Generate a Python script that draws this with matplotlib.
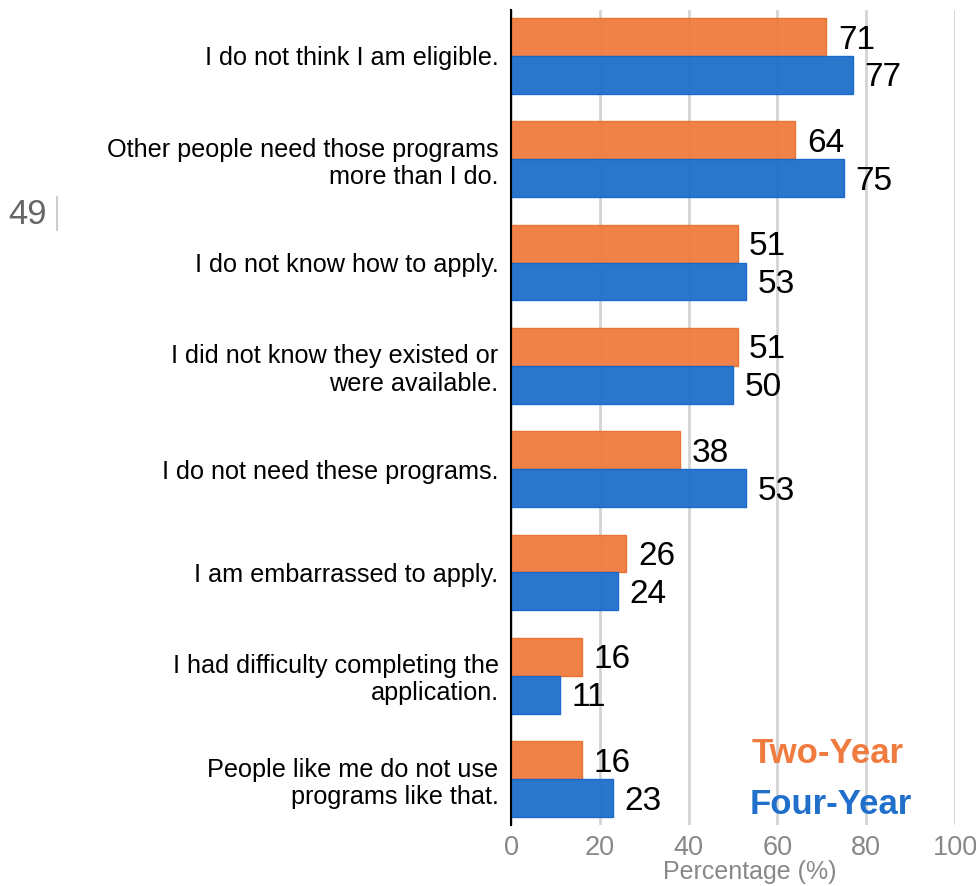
import matplotlib
matplotlib.use("Agg")
import matplotlib.pyplot as plt
import numpy as np

plt.rcParams['font.family'] = ['Liberation Sans', 'DejaVu Sans']

reasons = [
    "I do not think I am eligible.",
    "Other people need those programs\nmore than I do.",
    "I do not know how to apply.",
    "I did not know they existed or\nwere available.",
    "I do not need these programs.",
    "I am embarrassed to apply.",
    "I had difficulty completing the\napplication.",
    "People like me do not use\nprograms like that.",
]
two_year = [71, 64, 51, 51, 38, 26, 16, 16]
four_year = [77, 75, 53, 50, 53, 24, 11, 23]
x_ticks = [0, 20, 40, 60, 80, 100]

ORANGE = "#F07B3F"
BLUE = "#1F6FCB"

fig = plt.figure(figsize=(9.76, 8.86), dpi=100)
ax = fig.add_axes([0.5236, 0.0688, 0.455, 0.92])

y = np.arange(len(reasons))
h = 0.367
ax.barh(y - h / 2, two_year, height=h, color=ORANGE, alpha=0.95,
        edgecolor="#E8702F", linewidth=1, zorder=3)
ax.barh(y + h / 2, four_year, height=h, color=BLUE, alpha=0.95,
        edgecolor="#1565C8", linewidth=1, zorder=3)

for yi, v in zip(y, two_year):
    ax.text(v + 2.6, yi - h / 2 + 0.03, str(v), va="center", ha="left",
            fontsize=24, color="black", zorder=4)
for yi, v in zip(y, four_year):
    ax.text(v + 2.6, yi + h / 2 + 0.03, str(v), va="center", ha="left",
            fontsize=24, color="black", zorder=4)

ax.set_ylim(len(reasons) - 1 + 0.445, -0.445)
ax.set_xlim(0, 100)
ax.set_xticks(x_ticks)
ax.set_xticklabels([str(t) for t in x_ticks], fontsize=19.5, color="#888888")
ax.set_yticks(y)
ax.set_yticklabels(reasons, fontsize=18.2, color="black", ha="right",
                   multialignment="right", linespacing=1.17)
ax.tick_params(axis="y", length=0, pad=9)
ax.tick_params(axis="x", length=0, pad=7)
ax.set_xlabel("Percentage (%)", fontsize=18, color="#888888")
ax.xaxis.set_label_coords(0.537, -0.0663)
ax.xaxis.label.set_va("baseline")

ax.grid(axis="x", color="#d4d4d4", linewidth=2, zorder=0)
ax.set_axisbelow(True)
for s in ["top", "right", "bottom"]:
    ax.spines[s].set_visible(False)
ax.spines["left"].set_color("black")
ax.spines["left"].set_linewidth(1.5)
ax.spines["left"].set_zorder(5)

fig.text(0.848, 0.149, "Two-Year", color=ORANGE, fontsize=25,
         fontweight="bold", ha="center", va="center")
fig.text(0.851, 0.092, "Four-Year", color=BLUE, fontsize=25,
         fontweight="bold", ha="center", va="center")

fig.text(0.008, 0.758, "49", color="#666666", fontsize=25,
         ha="left", va="center")
fig.add_artist(plt.Line2D([0.0585, 0.0585], [0.740, 0.778],
                          color="#cccccc", linewidth=1.5,
                          transform=fig.transFigure))

fig.savefig("out.png", dpi=100)
